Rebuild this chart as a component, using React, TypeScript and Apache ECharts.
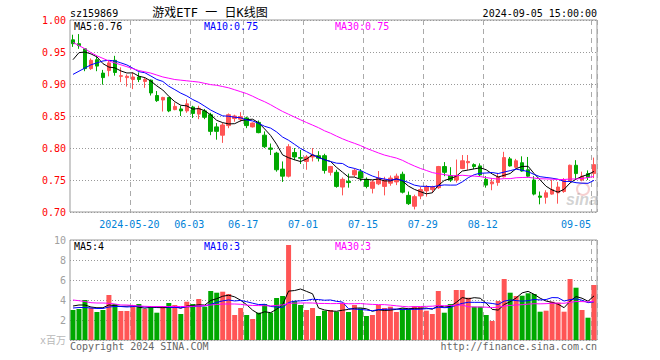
import React, { useEffect, useRef } from "react";
import * as echarts from "echarts";

const dates = [
  "2024-05-06","2024-05-07","2024-05-08","2024-05-09","2024-05-10",
  "2024-05-13","2024-05-14","2024-05-15","2024-05-16","2024-05-17",
  "2024-05-20","2024-05-21","2024-05-22","2024-05-23","2024-05-24",
  "2024-05-27","2024-05-28","2024-05-29","2024-05-30","2024-05-31",
  "2024-06-03","2024-06-04","2024-06-05","2024-06-06","2024-06-07",
  "2024-06-11","2024-06-12","2024-06-13","2024-06-14",
  "2024-06-17","2024-06-18","2024-06-19","2024-06-20","2024-06-21",
  "2024-06-24","2024-06-25","2024-06-26","2024-06-27","2024-06-28",
  "2024-07-01","2024-07-02","2024-07-03","2024-07-04","2024-07-05",
  "2024-07-08","2024-07-09","2024-07-10","2024-07-11","2024-07-12",
  "2024-07-15","2024-07-16","2024-07-17","2024-07-18","2024-07-19",
  "2024-07-22","2024-07-23","2024-07-24","2024-07-25","2024-07-26",
  "2024-07-29","2024-07-30","2024-07-31","2024-08-01","2024-08-02",
  "2024-08-05","2024-08-06","2024-08-07","2024-08-08","2024-08-09",
  "2024-08-12","2024-08-13","2024-08-14","2024-08-15","2024-08-16",
  "2024-08-19","2024-08-20","2024-08-21","2024-08-22","2024-08-23",
  "2024-08-26","2024-08-27","2024-08-28","2024-08-29","2024-08-30",
  "2024-09-02","2024-09-03","2024-09-04","2024-09-05",
];

const opens = [
  0.969,0.963,0.955,0.924,0.938,0.917,0.921,0.937,0.912,0.910,
  0.907,0.911,0.904,0.906,0.882,0.875,0.879,0.860,0.861,0.858,
  0.864,0.853,0.858,0.852,0.833,0.820,0.835,0.846,0.845,0.847,
  0.833,0.840,0.820,0.800,0.792,0.767,0.756,0.793,0.785,0.779,
  0.786,0.788,0.788,0.762,0.762,0.739,0.748,0.758,0.763,0.751,
  0.737,0.744,0.740,0.745,0.747,0.759,0.726,0.709,0.725,0.733,
  0.735,0.738,0.771,0.757,0.750,0.768,0.777,0.774,0.772,0.751,
  0.744,0.746,0.755,0.783,0.770,0.777,0.766,0.750,0.725,0.723,
  0.728,0.730,0.732,0.749,0.773,0.750,0.760,0.760,
];
const closes = [
  0.963,0.960,0.924,0.937,0.928,0.910,0.933,0.918,0.913,0.912,
  0.911,0.907,0.907,0.886,0.874,0.879,0.858,0.865,0.858,0.869,
  0.854,0.862,0.848,0.826,0.826,0.836,0.852,0.850,0.849,0.835,
  0.839,0.824,0.802,0.798,0.766,0.756,0.802,0.786,0.784,0.786,
  0.789,0.784,0.765,0.771,0.740,0.751,0.746,0.765,0.753,0.740,
  0.747,0.753,0.750,0.753,0.756,0.731,0.713,0.724,0.735,0.739,
  0.739,0.771,0.762,0.750,0.757,0.780,0.779,0.771,0.758,0.742,
  0.747,0.755,0.785,0.772,0.780,0.764,0.756,0.728,0.723,0.730,
  0.735,0.739,0.750,0.773,0.760,0.756,0.754,0.774,
];
const lows = [
  0.958,0.955,0.920,0.922,0.920,0.899,0.912,0.913,0.903,0.896,
  0.892,0.903,0.894,0.882,0.872,0.857,0.856,0.859,0.850,0.855,
  0.847,0.845,0.845,0.820,0.813,0.808,0.831,0.841,0.841,0.831,
  0.832,0.823,0.800,0.789,0.763,0.747,0.754,0.781,0.775,0.766,
  0.779,0.779,0.760,0.757,0.738,0.726,0.738,0.755,0.748,0.737,
  0.729,0.742,0.726,0.741,0.742,0.729,0.711,0.704,0.720,0.724,
  0.730,0.736,0.756,0.747,0.746,0.767,0.766,0.767,0.756,0.738,
  0.734,0.741,0.754,0.771,0.768,0.763,0.754,0.726,0.712,0.713,
  0.727,0.713,0.730,0.747,0.750,0.748,0.750,0.753,
];
const highs = [
  0.977,0.978,0.956,0.940,0.943,0.922,0.937,0.944,0.926,0.915,
  0.918,0.918,0.910,0.907,0.889,0.880,0.880,0.871,0.866,0.876,
  0.866,0.866,0.861,0.855,0.839,0.839,0.854,0.852,0.856,0.849,
  0.840,0.843,0.826,0.807,0.794,0.779,0.806,0.800,0.797,0.789,
  0.800,0.795,0.791,0.772,0.766,0.754,0.760,0.768,0.767,0.754,
  0.750,0.764,0.755,0.757,0.760,0.763,0.732,0.727,0.739,0.742,
  0.741,0.772,0.778,0.770,0.782,0.789,0.789,0.776,0.776,0.756,
  0.753,0.761,0.794,0.786,0.783,0.787,0.786,0.756,0.732,0.734,
  0.750,0.747,0.753,0.774,0.781,0.763,0.765,0.785,
];

// volume, millions
const volumes = [
  3.0,3.1,4.0,3.23,2.8,3.0,4.5,3.6,2.9,2.9,
  3.4,3.6,3.1,3.4,2.73,3.33,3.7,3.5,2.6,3.83,
  3.6,4.1,3.33,4.9,4.73,4.83,4.6,2.5,3.2,2.5,
  2.1,2.73,3.6,2.73,4.2,4.4,9.5,3.9,3.5,3.0,
  3.2,2.4,2.93,3.0,2.83,3.73,2.8,3.5,3.17,2.4,
  2.5,3.5,3.2,3.33,2.8,3.17,3.13,3.4,3.33,2.93,
  2.6,4.9,2.73,3.6,5.0,5.0,4.23,3.33,3.33,2.5,
  1.9,3.9,6.1,4.73,4.4,4.43,4.67,4.6,2.83,2.93,
  3.83,3.73,2.83,6.1,5.23,3.0,2.23,5.5,
];

// moving-average values at the start of the window (depend on earlier, unseen days)
const ma5Head = [0.938, 0.949, 0.950, 0.947];
const ma10Head = [0.915, 0.920, 0.925, 0.930, 0.933, 0.936, 0.937, 0.936, 0.933];
const ma30Head = [
  0.965,0.960,0.955,0.949,0.944,0.940,0.936,0.933,0.930,0.927,
  0.924,0.921,0.919,0.917,0.914,0.911,0.909,0.907,0.906,0.905,
  0.904,0.903,0.901,0.899,0.898,0.896,0.894,0.891,0.888,
];
const volMa5Head = [3.4, 3.5, 3.5, 3.3];
const volMa10Head = [3.2, 3.25, 3.25, 3.2, 3.15, 3.15, 3.3, 3.35, 3.35];
const volMa30Head = [
  4.0,3.93,3.85,3.73,3.7,3.7,3.67,3.6,3.5,3.5,
  3.45,3.4,3.37,3.35,3.35,3.35,3.35,3.35,3.35,3.35,
  3.37,3.4,3.45,3.5,3.55,3.6,3.6,3.6,3.57,
];

const tickDates = ["2024-05-20","2024-06-03","2024-06-17","2024-07-01","2024-07-15","2024-07-29","2024-08-12","2024-09-05"];
const tickLabels = ["2024-05-20","06-03","06-17","07-01","07-15","07-29","08-12","09-05"];

const priceLegend = ["MA5:0.76", "MA10:0.75", "MA30:0.75"];
const volLegend = ["MA5:4", "MA10:3", "MA30:3"];

function movingAverage(values: number[], n: number, head: number[]) {
  return values.map((_, i) => {
    if (i < n - 1) return head[i];
    let s = 0;
    for (let j = i - n + 1; j <= i; j++) s += values[j];
    return +(s / n).toFixed(4);
  });
}

const UP = "#ff5555";
const DOWN = "#00a800";
const MONO = '"DejaVu Sans Mono", "Liberation Mono", "Noto Sans CJK SC", monospace';

export default function App() {
  const ref = useRef<HTMLDivElement>(null);
  useEffect(() => {
    if (!ref.current) return;
    const chart = echarts.init(ref.current, undefined, { renderer: "svg" });
    const tickIdx = new Set(tickDates.map((d) => dates.indexOf(d)));
    const lastTick = dates.indexOf(tickDates[tickDates.length - 1]);
    const showTick = (i: number) => tickIdx.has(i);

    const kData = dates.map((_, i) => [opens[i], closes[i], lows[i], highs[i]]);
    const volData = volumes.map((v, i) => ({
      value: v,
      itemStyle: { color: closes[i] >= opens[i] ? UP : DOWN },
    }));

    const lineS = (name: string, data: number[], color: string, xi: number, yi: number) => ({
      name,
      type: "line",
      xAxisIndex: xi,
      yAxisIndex: yi,
      data,
      symbol: "none",
      showSymbol: false,
      smooth: false,
      z: 5,
      lineStyle: { color, width: 1 },
      emphasis: { disabled: true },
    });

    const dashed = { show: true, interval: (i: number) => showTick(i), lineStyle: { color: "#aaaaaa", type: [5, 4], width: 1 } };

    const txt = (text: string, x: number, y: number, color: string, align = "left", font = `10px ${MONO}`) => ({
      type: "text",
      x,
      y,
      silent: true,
      z: 20,
      style: {
        text,
        fill: color,
        font,
        align,
        verticalAlign: "middle",
        textAlign: align,
        textVerticalAlign: "middle",
      },
    });

    chart.setOption({
      animation: false,
      backgroundColor: "#ffffff",
      grid: [
        { left: 70, top: 20, width: 527, height: 192, show: true, borderColor: "#999999", borderWidth: 1, backgroundColor: "transparent" },
        { left: 70, top: 240, width: 527, height: 100, show: true, borderColor: "#999999", borderWidth: 1, backgroundColor: "transparent" },
      ],
      xAxis: [
        {
          type: "category",
          gridIndex: 0,
          data: dates,
          boundaryGap: true,
          axisLine: { show: false },
          axisTick: { show: false },
          axisLabel: {
            interval: (i: number) => showTick(i),
            margin: 7,
            formatter: (v: string, i: number) => {
              const k = tickDates.indexOf(v);
              const t = k >= 0 ? tickLabels[k] : v;
              return dates.indexOf(v) === lastTick ? `{l|${t}}` : `{n|${t}}`;
            },
            rich: {
              n: { color: "#0082d8", fontFamily: MONO, fontSize: 10, padding: [0, 7, 0, 0] },
              l: { color: "#0082d8", fontFamily: MONO, fontSize: 10, padding: [0, 36, 0, 0] },
            },
          },
          splitLine: dashed,
        },
        {
          type: "category",
          gridIndex: 1,
          data: dates,
          boundaryGap: true,
          axisLine: { show: false },
          axisTick: { show: false },
          axisLabel: { show: false },
          splitLine: dashed,
        },
      ],
      yAxis: [
        {
          type: "value",
          gridIndex: 0,
          min: 0.7,
          max: 1.0,
          interval: 0.05,
          axisLine: { show: false },
          axisTick: { show: false },
          axisLabel: { color: "#ff0000", fontFamily: MONO, fontSize: 10, margin: 4, formatter: (v: number) => v.toFixed(2) },
          splitLine: { show: true, lineStyle: { color: "#999999", type: [1, 2], width: 1 } },
        },
        {
          type: "value",
          gridIndex: 1,
          min: 0,
          max: 10,
          interval: 2,
          axisLine: { show: false },
          axisTick: { show: false },
          axisLabel: {
            color: "#a0a0a0",
            fontFamily: MONO,
            fontSize: 10,
            margin: 4,
            formatter: (v: number) => (v === 0 ? "{u|x百万}" : String(v)),
            rich: { u: { color: "#b8b8b8", fontFamily: MONO, fontSize: 10 } },
          },
          splitLine: { show: true, lineStyle: { color: "#999999", type: [1, 2], width: 1 } },
        },
      ],
      series: [
        {
          type: "candlestick",
          xAxisIndex: 0,
          yAxisIndex: 0,
          data: kData,
          barWidth: 4,
          z: 3,
          itemStyle: { color: UP, color0: DOWN, borderColor: UP, borderColor0: DOWN, borderWidth: 1 },
          emphasis: { disabled: true },
        },
        lineS("MA5", movingAverage(closes, 5, ma5Head), "#000000", 0, 0),
        lineS("MA10", movingAverage(closes, 10, ma10Head), "#0000ff", 0, 0),
        lineS("MA30", movingAverage(closes, 30, ma30Head), "#ff00ff", 0, 0),
        {
          type: "bar",
          xAxisIndex: 1,
          yAxisIndex: 1,
          data: volData,
          barWidth: 5,
          z: 3,
          emphasis: { disabled: true },
        },
        lineS("VMA5", movingAverage(volumes, 5, volMa5Head), "#000000", 1, 1),
        lineS("VMA10", movingAverage(volumes, 10, volMa10Head), "#0000ff", 1, 1),
        lineS("VMA30", movingAverage(volumes, 30, volMa30Head), "#ff00ff", 1, 1),
      ],
      graphic: [
        txt("sz159869", 70, 13, "#000000"),
        txt("游戏ETF 一 日K线图", 210, 13, "#000000", "center", `12px ${MONO}`),
        txt("2024-09-05 15:00:00", 597, 13, "#000000", "right"),
        txt(priceLegend[0], 74, 26, "#000000"),
        txt(priceLegend[1], 204, 26, "#0000ff"),
        txt(priceLegend[2], 335, 26, "#ff00ff"),
        txt(volLegend[0], 74, 246, "#000000"),
        txt(volLegend[1], 204, 246, "#0000ff"),
        txt(volLegend[2], 335, 246, "#ff00ff"),
        txt("Copyright 2024 SINA.COM", 70, 346, "#666666"),
        txt("http://finance.sina.com.cn", 597, 346, "#666666", "right"),
        {
          type: "circle",
          silent: true,
          z: 1,
          shape: { cx: 583, cy: 189, r: 6 },
          style: { fill: "none", stroke: "rgba(230,120,120,0.35)", lineWidth: 2 },
        },
        txt("sina", 566, 199, "rgba(140,140,140,0.4)", "left", "italic bold 16px Arial, sans-serif"),
      ],
    });
    return () => chart.dispose();
  }, []);
  return <div ref={ref} style={{ position: "fixed", left: 0, top: 0, width: 660, height: 360 }} />;
}
